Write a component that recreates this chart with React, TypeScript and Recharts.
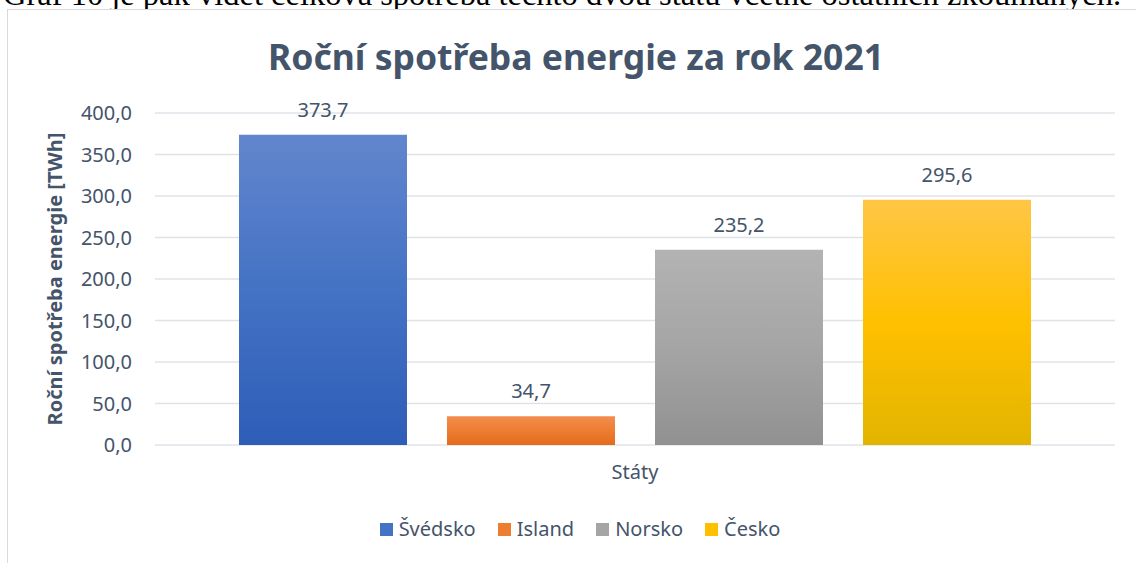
import { Bar, BarChart, CartesianGrid, LabelList, XAxis, YAxis } from "recharts";

const categories = ["Státy"];
const seriesNames = ["Švédsko", "Island", "Norsko", "Česko"];
const seriesValues = [373.7, 34.7, 235.2, 295.6];
const yTicks = [0, 50, 100, 150, 200, 250, 300, 350, 400];

// top / middle / bottom of each Excel-like gradient
const gradients = [
  ["#6286cd", "#4472c4", "#2e5db8"],
  ["#f38d4f", "#ed7d31", "#e56b1c"],
  ["#b3b3b3", "#a5a5a5", "#919191"],
  ["#ffc646", "#ffc000", "#e2b400"],
];
const legendColors = ["#4472c4", "#ed7d31", "#a5a5a5", "#ffc000"];

const data = categories.map((name) => {
  const row: Record<string, string | number> = { name };
  seriesNames.forEach((s, i) => {
    row[s] = seriesValues[i];
  });
  return row;
});

const textColor = "#44546a";
const font = "'Noto Sans', sans-serif";
const fmt = (v: number) => v.toFixed(1).replace(".", ",");

const YLabel = (props: any) => {
  const vb = props.viewBox;
  const cx = vb.x + 54;
  const cy = vb.y + vb.height / 2;
  return (
    <text
      x={cx}
      y={cy}
      transform={`rotate(-90 ${cx} ${cy})`}
      textAnchor="middle"
      dominantBaseline="central"
      fill={textColor}
      fontSize={20}
      fontWeight={700}
      fontFamily={font}
    >
      Roční spotřeba energie [TWh]
    </text>
  );
};

const App = () => {
  return (
    <div
      style={{
        position: "absolute",
        left: 0,
        top: 0,
        width: 1136,
        height: 563,
        overflow: "hidden",
        background: "#fff",
        fontFamily: font,
      }}
    >
      {/* document text above the chart, cut off by the screenshot */}
      <div
        style={{
          position: "absolute",
          left: 3,
          top: -22.5,
          lineHeight: "33px",
          fontSize: 32.5,
          whiteSpace: "nowrap",
          fontFamily: "'Liberation Serif', serif",
          color: "#000",
        }}
      >
        Graf 10 je pak vidět celková spotřeba těchto dvou států včetně ostatních zkoumaných.
      </div>
      <div
        style={{
          position: "absolute",
          left: 7,
          top: 9,
          width: 1150,
          height: 580,
          border: "1px solid #d9d9d9",
          background: "#fff",
        }}
      />
      <div
        style={{
          position: "absolute",
          left: 0,
          top: 33,
          width: 1152,
          textAlign: "center",
          fontSize: 35.5,
          fontWeight: 700,
          color: textColor,
          lineHeight: "46px",
        }}
      >
        Roční spotřeba energie za rok 2021
      </div>
      <BarChart
        width={1136}
        height={563}
        data={data}
        margin={{ top: 113, right: 21, bottom: 78, left: 0 }}
        barCategoryGap={84}
        barGap={40}
        style={{ position: "absolute", left: 0, top: 0 }}
      >
        <defs>
          {gradients.map((g, i) => (
            <linearGradient key={i} id={`grad-${i}`} x1="0" y1="0" x2="0" y2="1">
              <stop offset="0%" stopColor={g[0]} />
              <stop offset="50%" stopColor={g[1]} />
              <stop offset="100%" stopColor={g[2]} />
            </linearGradient>
          ))}
        </defs>
        <CartesianGrid vertical={false} stroke="#dfe3e8" strokeWidth={1.5} />
        <XAxis
          dataKey="name"
          height={40}
          axisLine={false}
          tickLine={false}
          tickSize={0}
          tickMargin={20}
          tick={{ fill: textColor, fontSize: 20, fontFamily: font }}
        />
        <YAxis
          width={155}
          domain={[0, 400]}
          ticks={yTicks}
          interval={0}
          axisLine={false}
          tickLine={false}
          tickSize={0}
          tickMargin={23}
          tickFormatter={fmt}
          tick={{ fill: textColor, fontSize: 20, fontFamily: font }}
          label={{ content: YLabel }}
        />
        {seriesNames.map((s, i) => (
          <Bar key={s} dataKey={s} fill={`url(#grad-${i})`} isAnimationActive={false}>
            <LabelList
              dataKey={s}
              position="top"
              offset={18}
              formatter={(v: any) => fmt(Number(v))}
              fill={textColor}
              fontSize={20}
              fontFamily={font}
            />
          </Bar>
        ))}
      </BarChart>
      <div
        style={{
          position: "absolute",
          left: 0,
          top: 515,
          width: 1160,
          display: "flex",
          justifyContent: "center",
          gap: 22,
          fontSize: 20,
          color: textColor,
          lineHeight: "28px",
        }}
      >
        {seriesNames.map((s, i) => (
          <div key={s} style={{ display: "flex", alignItems: "center", gap: 6 }}>
            <span style={{ width: 13, height: 13, background: legendColors[i], display: "inline-block" }} />
            <span>{s}</span>
          </div>
        ))}
      </div>
    </div>
  );
};

export default App;
